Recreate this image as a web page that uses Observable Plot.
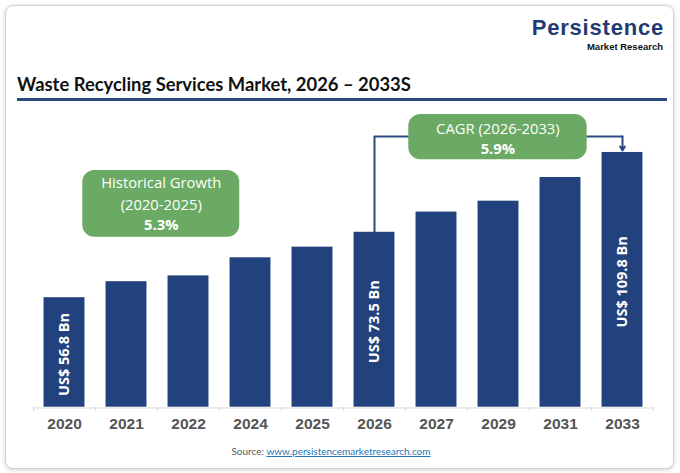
<!DOCTYPE html>
<html>
<head>
<meta charset="utf-8">
<script src="https://cdn.jsdelivr.net/npm/d3@7"></script>
<script src="https://cdn.jsdelivr.net/npm/@observablehq/plot@0.6"></script>
<style>
html,body{margin:0;padding:0;background:#fff;width:680px;height:473px;overflow:hidden;position:relative;}
#card{position:absolute;left:5px;top:5px;width:667px;height:462px;border:1px solid #d2d2d2;border-radius:8px;box-shadow:0 1px 4px rgba(0,0,0,0.18);background:#fff;}
#logo1{position:absolute;right:16px;top:19.4px;font:bold 22px/0.8 "Liberation Sans",Arial,sans-serif;color:#1f3b73;letter-spacing:0.8px;}
#logo2{position:absolute;right:17px;top:41.8px;font:bold 9.5px/1 "Liberation Sans",Arial,sans-serif;color:#111;}
#title{position:absolute;left:17px;top:74.5px;font:bold 18.4px/1 Lato,sans-serif;color:#111;white-space:nowrap;}
#rule{position:absolute;left:17px;top:98px;width:650px;height:2.5px;background:#2a4a7f;}
#chart{position:absolute;left:0;top:100px;}
#source{position:absolute;left:0;width:662px;top:446px;text-align:center;font:10px/1 Lato,sans-serif;color:#595959;}
#source a{color:#1f78b4;text-decoration:underline;}
</style>
</head>
<body>
<div id="card"></div>
<div id="logo1">Persistence</div>
<div id="logo2">Market Research</div>
<div id="title">Waste Recycling Services Market, 2026 – 2033S</div>
<div id="rule"></div>
<div id="chart"></div>
<div id="source">Source: <a>www.persistencemarketresearch.com</a></div>
<script>
const years = ["2020","2021","2022","2024","2025","2026","2027","2029","2031","2033"];
const values = [47.2, 54.1, 56.6, 64.4, 69.0, 75.4, 84.1, 88.8, 99.0, 109.8];
const barLabels = ["US$ 56.8 Bn","","","","","US$ 73.5 Bn","","","","US$ 109.8 Bn"];
const histLines = ["Historical Growth","(2020-2025)","5.3%"];
const cagrLines = ["CAGR (2026-2033)","5.9%"];

const navy = "#22427e";
const green = "#6aaa64";
const data = years.map((year, i) => ({i, year, v: values[i], label: barLabels[i]}));

// annotation layout (x in category-index units, y in value units)
const histBox = {x1: 0.295, x2: 2.827, y1: 73.3, y2: 102.0};
const histText = histLines.map((t, k) => ({t, x: 1.56, y: [96.6, 87.2, 78.4][k], bold: k === 2}));
const cagrBox = {x1: 5.553, x2: 8.43, y1: 106.7, y2: 126.2};
const cagrText = cagrLines.map((t, k) => ({t, x: 6.99, y: [120.0, 111.4][k], bold: k === 1}));
const level = 116.7;
const leftPath = [{x: 5, y: values[5]}, {x: 5, y: level}, {x: cagrBox.x1, y: level}];
const rightPath = [{x: cagrBox.x2, y: level}, {x: 9, y: level}];

const boxText = (rows, bold) => Plot.text(rows.filter(d => d.bold === bold), {
  x: "x", y: "y", text: "t", fill: "white", fontSize: 14.8,
  fontWeight: bold ? "bold" : "normal", fontFamily: "Open Sans, sans-serif"});

const plot = Plot.plot({
  width: 680, height: 340,
  marginLeft: 33, marginRight: 27, marginTop: 16.7, marginBottom: 33.3,
  x: {domain: [-0.5, 9.5], axis: null},
  y: {domain: [0, 125], axis: null},
  style: {background: "transparent", overflow: "visible"},
  marks: [
    Plot.ruleY([0], {stroke: "#d9d9d9", strokeWidth: 1.2, dy: 0.8}),
    Plot.ruleX(d3.range(years.length + 1).map(k => k - 0.5), {y1: () => 0, y2: () => -1.9, stroke: "#d9d9d9"}),
    Plot.rect(data, {x1: d => d.i - 0.33, x2: d => d.i + 0.33, y1: () => 0, y2: "v", fill: navy}),
    Plot.text(data.filter(d => d.label), {x: "i", y: d => d.v / 2, text: "label", rotate: -90, fill: "white",
      fontSize: 14.5, fontWeight: "bold", fontFamily: "Open Sans, sans-serif", dy: 2}),
    Plot.text(data, {x: "i", y: () => 0, text: "year", lineAnchor: "top", dy: 11, fill: "#555",
      fontSize: 15.5, fontWeight: "bold", fontFamily: "Liberation Sans Narrow, Liberation Sans, Arial, sans-serif"}),
    Plot.rect([histBox], {x1: "x1", x2: "x2", y1: "y1", y2: "y2", fill: green, rx: 12}),
    boxText(histText, false),
    boxText(histText, true),
    Plot.line(leftPath, {x: "x", y: "y", stroke: "#2b4a7f", strokeWidth: 2, curve: "linear"}),
    Plot.line(rightPath, {x: "x", y: "y", stroke: "#2b4a7f", strokeWidth: 2, curve: "linear"}),
    Plot.arrow([{x: 9, y1: level, y2: 110.6}], {x1: "x", x2: "x", y1: "y1", y2: "y2", stroke: "#2b4a7f",
      strokeWidth: 2, headLength: 7}),
    Plot.rect([cagrBox], {x1: "x1", x2: "x2", y1: "y1", y2: "y2", fill: green, rx: 12}),
    boxText(cagrText, false),
    boxText(cagrText, true)
  ]
});
document.getElementById("chart").append(plot);
</script>
</body>
</html>
